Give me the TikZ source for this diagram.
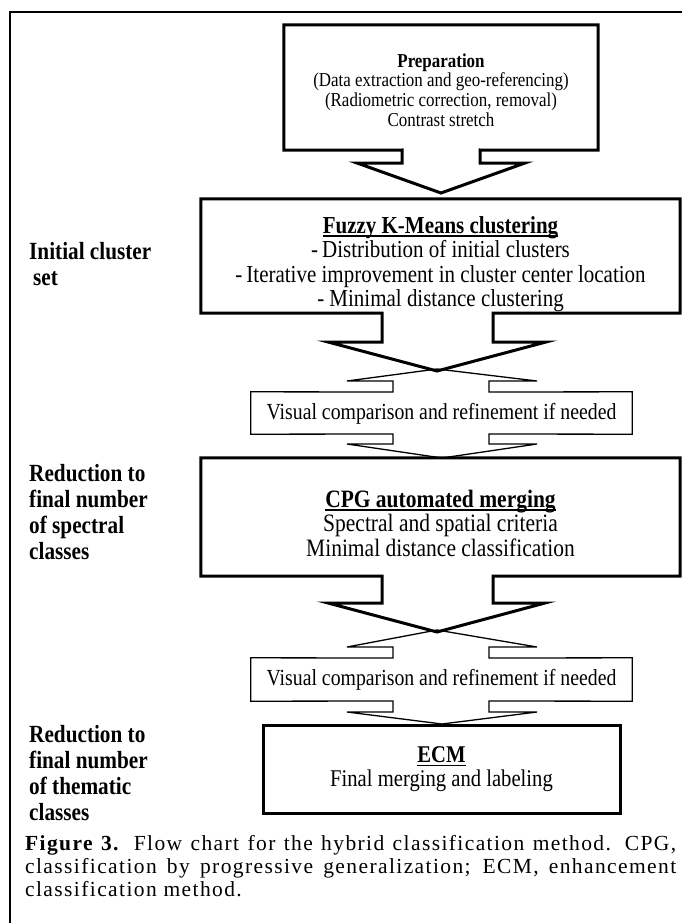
\documentclass[tikz,border=0pt]{standalone}
\usepackage{fontspec}
\setmainfont{Liberation Serif}
\newfontfamily\dgfont{Liberation Serif}[FakeStretch=0.86]
\newfontfamily\cptfont{Liberation Serif}[LetterSpace=6.5]
\newsavebox\ulbox
\newcommand\myul[1]{\sbox\ulbox{#1}\leavevmode\rlap{\rule[-4pt]{\wd\ulbox}{1.6pt}}\usebox\ulbox}
\begin{document}
\begin{tikzpicture}[x=1pt,y=-1pt,
  boxnode/.style={inner sep=0pt, draw=none, rectangle},
  txt/.style={inner sep=0pt, align=center},
  thickbox/.style={line width=3pt, line join=miter},
  thinbox/.style={line width=1.3pt, line join=miter},
  sidelabel/.style={anchor=west, align=left, inner sep=0pt, font=\dgfont\bfseries\fontsize{24.7}{26}\selectfont},
  frameline/.style={line width=1.5pt}]
\useasboundingbox (0,0) rectangle (682,923);
\draw[frameline] (10,923) -- (10,12) -- (682,12);

% Preparation
\node[boxnode, minimum width=314pt, minimum height=125pt] (prep) at (441,87.5) {};
\node[txt, font=\dgfont\fontsize{19.7}{19.8}\selectfont] (prept) at (441,90)
  {\textbf{Preparation}\\(Data extraction and geo-referencing)\\(Radiometric correction, removal)\\Contrast stretch};
\coordinate (apex1) at (441,193);
\draw[thickbox] (prep.north west) -- (prep.north east) -- (prep.south east)
  -- (480,150) -- (480,163) -- (525,163) -- (apex1) -- (357,163) -- (402,163) -- (402,150)
  -- (prep.south west) -- cycle;

% Fuzzy K-Means
\node[boxnode, minimum width=479pt, minimum height=114pt] (fuzzy) at (440.5,256) {};
\node[txt, font=\dgfont\fontsize{24.4}{24.5}\selectfont] (fuzzyt) at (440.5,264)
  {\textbf{\myul{Fuzzy K-Means clustering}}\\-\,Distribution of initial clusters\\-\,Iterative improvement in cluster center location\\- Minimal distance clustering};
\coordinate (apex2) at (437,371);
\coordinate (apex2t) at (437,369);
\draw[thickbox] (fuzzy.north west) -- (fuzzy.north east) -- (fuzzy.south east)
  -- (493,313) -- (493,342) -- (546,342) -- (apex2) -- (328,342) -- (382,342) -- (382,313)
  -- (fuzzy.south west) -- cycle;

% Visual comparison 1
\node[boxnode, minimum width=381pt, minimum height=42pt] (vis1) at (441.5,413) {};
\node[txt, font=\dgfont\fontsize{23}{24}\selectfont] (vis1t) at (441.5,414) {Visual comparison and refinement if needed};
\coordinate (apex3) at (442,458);
\draw[thinbox] (vis1.north west) -- (393,392) -- (393,381) -- (347,381) -- (apex2t) -- (537,381) -- (489,381) -- (489,392)
  -- (vis1.north east) -- (vis1.south east)
  -- (489,434) -- (489,444) -- (537,444) -- (apex3) -- (347,444) -- (393,444) -- (393,434)
  -- (vis1.south west) -- cycle;

% CPG
\node[boxnode, minimum width=479pt, minimum height=118pt] (cpg) at (440.5,517) {};
\node[txt, font=\dgfont\fontsize{25}{24.5}\selectfont] (cpgt) at (440.5,523)
  {\textbf{\myul{CPG automated merging}}\\Spectral and spatial criteria\\Minimal distance classification};
\coordinate (apex4) at (437,632);
\coordinate (apex4t) at (437,630);
\draw[thickbox] (cpg.north west) -- (cpg.north east) -- (cpg.south east)
  -- (493,576) -- (493,603) -- (545,603) -- (apex4) -- (328,603) -- (382,603) -- (382,576)
  -- (cpg.south west) -- cycle;

% Visual comparison 2
\node[boxnode, minimum width=381pt, minimum height=43pt] (vis2) at (441.5,679.5) {};
\node[txt, font=\dgfont\fontsize{23}{24}\selectfont] (vis2t) at (441.5,680) {Visual comparison and refinement if needed};
\coordinate (apex5) at (442,724);
\draw[thinbox] (vis2.north west) -- (393,658) -- (393,647) -- (347,647) -- (apex4t) -- (537,647) -- (489,647) -- (489,658)
  -- (vis2.north east) -- (vis2.south east)
  -- (489,701) -- (489,712) -- (537,712) -- (apex5) -- (347,712) -- (393,712) -- (393,701)
  -- (vis2.south west) -- cycle;

% ECM
\node[boxnode, draw, thickbox, minimum width=357pt, minimum height=88pt] (ecm) at (441.5,769) {};
\node[txt, font=\dgfont\fontsize{24}{24}\selectfont] (ecmt) at (441.5,769)
  {\textbf{\myul{ECM}}\\Final merging and labeling};

% Side labels
\node[sidelabel] (lab1) at (29,264) {Initial cluster\\\hspace*{4pt}set};
\node[sidelabel] (lab2) at (29,512) {Reduction to\\final number\\of spectral\\classes};
\node[sidelabel] (lab3) at (29,773) {Reduction to\\final number\\of thematic\\classes};

% Caption
\node[inner sep=0pt, text width=651pt, align=justify, anchor=north west,
  font=\cptfont\fontsize{21.5}{23}\selectfont] (cap) at (25,835)
  {\textbf{Figure 3.} Flow chart for the hybrid classification method. CPG,\linebreak
   classification by progressive generalization; ECM, enhancement\linebreak
   classification method.};
\end{tikzpicture}
\end{document}
